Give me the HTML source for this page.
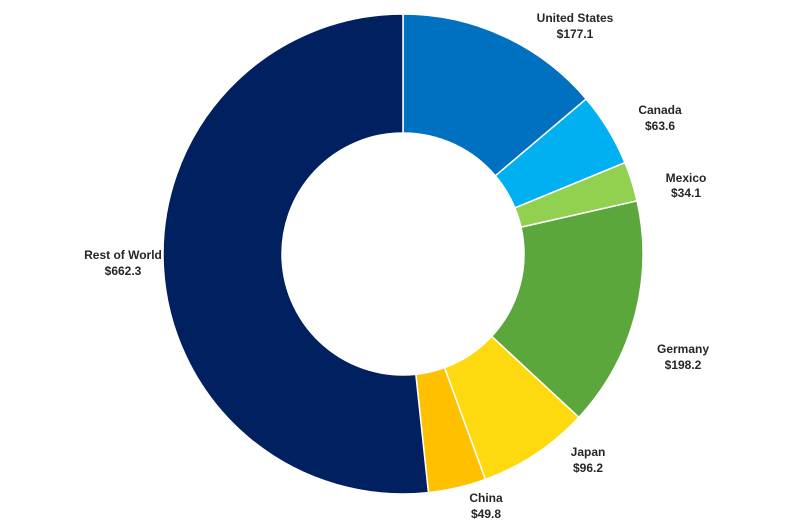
<!DOCTYPE html>
<html><head><meta charset="utf-8"><style>
html,body{margin:0;padding:0;background:#fff;}
svg{display:block;}
text{font-family:"Liberation Sans",Arial,sans-serif;font-weight:bold;font-size:12px;fill:#262626;text-anchor:middle;}
</style></head><body>
<svg id="s" width="800" height="532" viewBox="0 0 800 532">
<g id="g"></g>
<text x="575" y="22">United States</text><text x="575" y="38">$177.1</text>
<text x="660" y="114">Canada</text><text x="660" y="130">$63.6</text>
<text x="686" y="182">Mexico</text><text x="686" y="197">$34.1</text>
<text x="683" y="353">Germany</text><text x="683" y="369">$198.2</text>
<text x="588" y="456">Japan</text><text x="588" y="472">$96.2</text>
<text x="486" y="502">China</text><text x="486" y="518">$49.8</text>
<text x="123" y="259">Rest of World</text><text x="123" y="275">$662.3</text>
</svg>
<script>
var d=[[177.1,"#0070C0"],[63.6,"#00B0F0"],[34.1,"#92D050"],[198.2,"#5BA73C"],[96.2,"#FFD90F"],[49.8,"#FFC000"],[662.3,"#002060"]];
var t=0;d.forEach(function(x){t+=x[0];});
var cx=403,cy=254,R=240,r=121,a=0,h="";
function p(rad,ang){var q=ang*Math.PI*2;return (cx+rad*Math.sin(q)).toFixed(2)+","+(cy-rad*Math.cos(q)).toFixed(2);}
d.forEach(function(x){var f=x[0]/t,b=a+f,l=f>0.5?1:0;
h+='<path d="M'+p(R,a)+' A'+R+','+R+' 0 '+l+' 1 '+p(R,b)+' L'+p(r,b)+' A'+r+','+r+' 0 '+l+' 0 '+p(r,a)+' Z" fill="'+x[1]+'" stroke="#fff" stroke-width="1.5"/>';a=b;});
document.getElementById("g").innerHTML=h;
</script>
</body></html>
